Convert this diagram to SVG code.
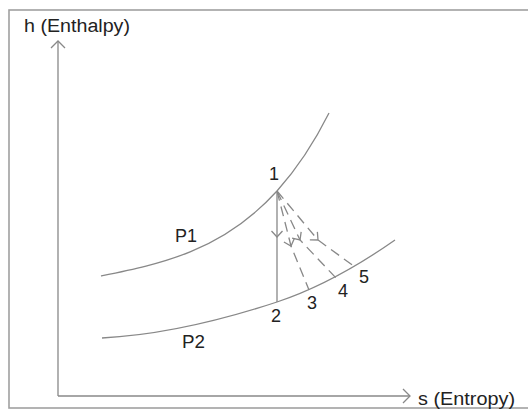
<svg xmlns="http://www.w3.org/2000/svg" width="528" height="410" viewBox="0 0 528 410">
<style>
.ln{fill:none;stroke:#888;stroke-width:1.3}
.dash{stroke-dasharray:10 6}
.tx{font-family:"Liberation Sans",Arial,sans-serif;font-size:18px;fill:#222}
</style>
<defs>
<marker id="chev" markerUnits="userSpaceOnUse" markerWidth="16" markerHeight="16" viewBox="-8 -8 16 16" refX="0" refY="0" orient="auto">
<path d="M-6,-5.5 L0,0 L-6,5.5" fill="none" stroke="#888" stroke-width="1.3"/>
</marker>
<marker id="axarr" markerUnits="userSpaceOnUse" markerWidth="20" markerHeight="20" viewBox="-10 -10 20 20" refX="0" refY="0" orient="auto">
<path d="M-7,-7 L0,0 L-7,7" fill="none" stroke="#888" stroke-width="1.3"/>
</marker>
</defs>
<rect width="528" height="410" fill="#fff"/>
<rect x="9" y="10" width="530" height="398" fill="none" stroke="#a0a0a0" stroke-width="1.6"/>
<g id="axes">
<path class="ln" d="M58,396 L58,41" marker-end="url(#axarr)"/>
<path class="ln" d="M58,396 L410,396" marker-end="url(#axarr)"/>
<text class="tx" x="24" y="32" textLength="106" lengthAdjust="spacingAndGlyphs">h (Enthalpy)</text>
<text class="tx" x="418" y="405" textLength="97" lengthAdjust="spacingAndGlyphs">s (Entropy)</text>
</g>
<g id="P1">
<path class="ln" d="M101,276 C160,264 222,251.5 277,191 C294,172 312,147 329,113"/>
<text class="tx" x="175" y="242" textLength="22" lengthAdjust="spacingAndGlyphs">P1</text>
</g>
<g id="P2">
<path class="ln" d="M102,338 C160,335 220,320.8 277,302 C316,289 356,267.3 395,240"/>
<text class="tx" x="182" y="348" textLength="23" lengthAdjust="spacingAndGlyphs">P2</text>
</g>
<g id="n1"><text class="tx" x="269" y="180">1</text></g>
<g id="n2"><text class="tx" x="271" y="322">2</text></g>
<g id="n3"><text class="tx" x="307" y="309">3</text></g>
<g id="n4"><text class="tx" x="338" y="297">4</text></g>
<g id="n5"><text class="tx" x="359" y="283">5</text></g>
<g id="connectors">
<polyline class="ln" points="277,191 277,237 277,302" marker-mid="url(#chev)"/>
<polyline class="ln dash" points="277,191 291,246 309,290" marker-mid="url(#chev)"/>
<polyline class="ln dash" points="277,191 300,240 336,278" marker-mid="url(#chev)"/>
<polyline class="ln dash" points="277,191 318,240 355,267" marker-mid="url(#chev)"/>
</g>
</svg>
